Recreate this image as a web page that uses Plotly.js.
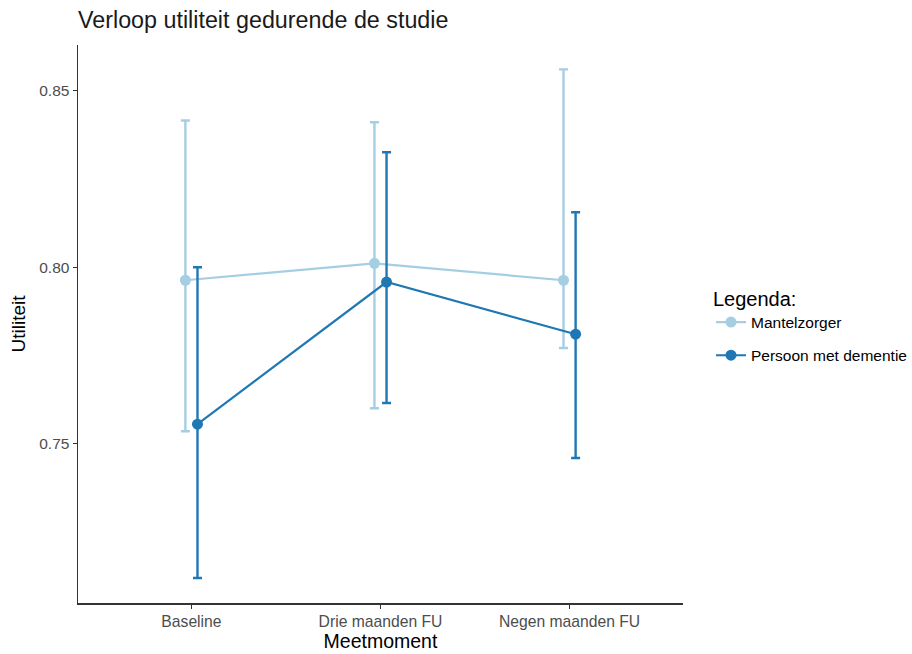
<!DOCTYPE html>
<html>
<head>
<meta charset="utf-8">
<script src="https://cdn.plot.ly/plotly-3.0.1.min.js"></script>
<style>html,body{margin:0;padding:0;background:#fff;}</style>
</head>
<body>
<div id="chart" style="width:912px;height:654px;"></div>
<script>
const categories = ["Baseline", "Drie maanden FU", "Negen maanden FU"];
const seriesNames = ["Mantelzorger", "Persoon met dementie"];

const mantelMean  = [0.7963, 0.8011, 0.7963];
const mantelUpper = [0.8416, 0.8411, 0.8561];
const mantelLower = [0.7535, 0.7600, 0.7771];

const persoonMean  = [0.7555, 0.7958, 0.7810];
const persoonUpper = [0.8000, 0.8326, 0.8156];
const persoonLower = [0.7119, 0.7615, 0.7459];

const colors = ["#a6cee3", "#1f78b4"];
const dodge = [-0.032, 0.032];

function makeTrace(name, mean, upper, lower, color, off) {
  const xs = categories.map((c, i) => i + 1 + off);
  return {
    type: "scatter",
    mode: "lines+markers",
    name: name,
    legendgroup: name,
    x: xs,
    y: mean,
    line: {color: color, width: 2.2},
    marker: {color: color, size: 11},
    error_y: {
      type: "data",
      symmetric: false,
      array: upper.map((u, i) => u - mean[i]),
      arrayminus: mean.map((m, i) => m - lower[i]),
      color: color,
      thickness: 2.4,
      width: 4.5
    }
  };
}

const data = [
  makeTrace(seriesNames[0], mantelMean, mantelUpper, mantelLower, colors[0], dodge[0]),
  makeTrace(seriesNames[1], persoonMean, persoonUpper, persoonLower, colors[1], dodge[1])
];

const layout = {
  width: 912,
  height: 654,
  margin: {l: 78, r: 229, t: 45, b: 51},
  paper_bgcolor: "#ffffff",
  plot_bgcolor: "#ffffff",
  font: {family: "Liberation Sans, Arial, sans-serif", color: "#000"},
  title: {
    text: "Verloop utiliteit gedurende de studie",
    font: {size: 23.3, color: "#1a1a1a"},
    x: 78 / 912, xanchor: "left", xref: "container",
    y: 1 - 20 / 654, yanchor: "middle", yref: "container"
  },
  xaxis: {
    range: [0.4, 3.6],
    tickvals: [1, 2, 3],
    ticktext: categories,
    showgrid: false,
    zeroline: false,
    showline: true,
    linecolor: "#333333",
    linewidth: 1.5,
    ticks: "outside",
    ticklen: 4,
    tickcolor: "#333333",
    tickfont: {size: 15.7, color: "#4d4d4d"},
    title: {text: "Meetmoment", font: {size: 19.5, color: "#000"}, standoff: 4}
  },
  yaxis: {
    range: [0.7048, 0.863],
    tickvals: [0.75, 0.80, 0.85],
    tickformat: ".2f",
    showgrid: false,
    zeroline: false,
    showline: true,
    linecolor: "#333333",
    linewidth: 1.5,
    ticks: "outside",
    ticklen: 4,
    tickcolor: "#333333",
    tickfont: {size: 15.5, color: "#4d4d4d"},
    title: {text: "Utiliteit", font: {size: 19, color: "#000"}, standoff: 8}
  },
  legend: {
    xref: "container", yref: "container",
    x: 711 / 912, xanchor: "left",
    y: 1 - 326 / 654, yanchor: "middle",
    title: {text: "Legenda:", font: {size: 20, color: "#000"}},
    font: {size: 15.5, color: "#000"},
    traceorder: "grouped",
    tracegroupgap: 10,
    bgcolor: "rgba(0,0,0,0)"
  },
  showlegend: true
};

Plotly.newPlot("chart", data, layout, {displayModeBar: false, staticPlot: true});
</script>
</body>
</html>
